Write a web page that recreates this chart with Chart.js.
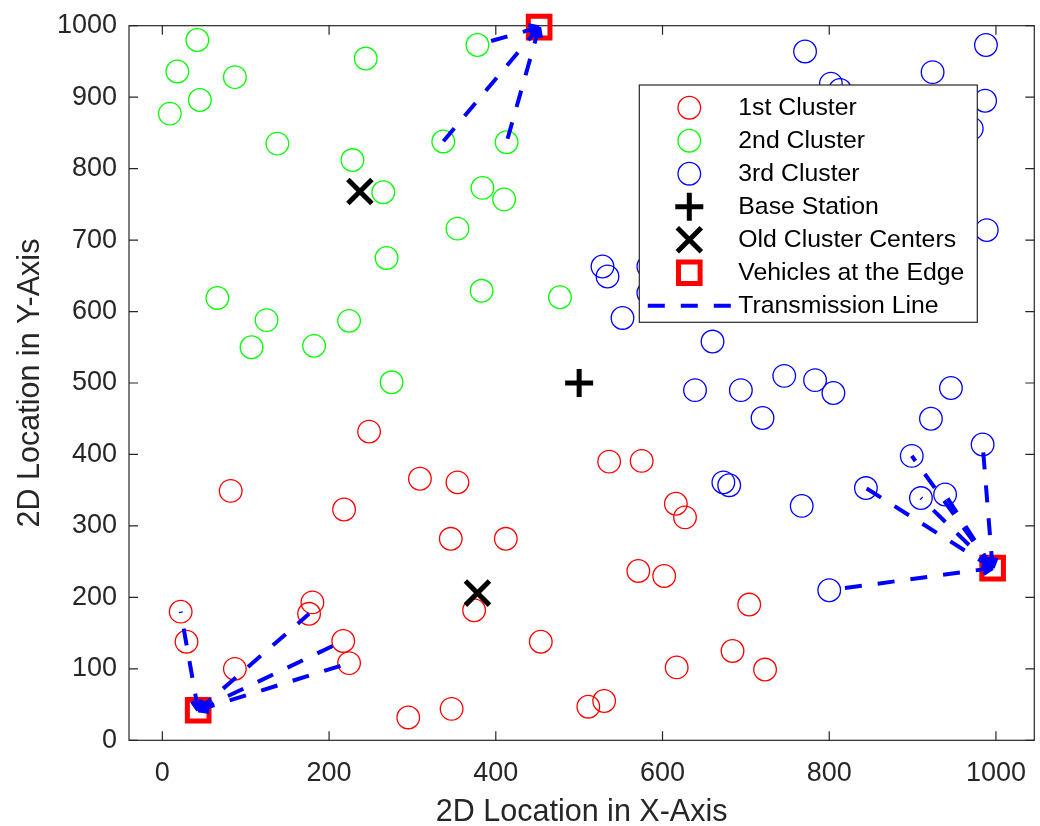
<!DOCTYPE html>
<html>
<head>
<meta charset="utf-8">
<script src="https://cdn.jsdelivr.net/npm/chart.js@4.4.1/dist/chart.umd.min.js"></script>
<style>
  html, body { margin: 0; padding: 0; background: #fff; }
</style>
</head>
<body>
<canvas id="chart" width="1040" height="826"></canvas>
<script>
// node positions (x, y)
const cluster1 = [
  [22, 180], [29, 138], [87, 100], [180, 193], [176, 177], [217, 139], [224, 108],
  [82, 349], [218, 323], [248, 432], [309, 366], [354, 361], [346, 282], [412, 282],
  [536, 390], [575, 391], [616, 331], [627, 312], [571, 237], [602, 230], [374, 182],
  [454, 138], [617, 102], [295, 32], [347, 44], [511, 47], [530, 55], [704, 190],
  [684, 125], [723, 99]
];
const cluster2 = [
  [42, 980], [18, 936], [45, 896], [87, 928], [9, 877], [138, 835], [228, 812], [244, 954],
  [378, 973], [337, 838], [413, 837], [265, 767], [384, 773], [410, 757], [354, 716],
  [269, 675], [383, 629], [477, 620], [224, 587], [275, 501], [66, 619], [125, 588],
  [107, 550], [182, 552]
];
const cluster3 = [
  [771, 964], [988, 973], [924, 935], [802, 919], [813, 910], [987, 895], [971, 856],
  [989, 714], [528, 663], [534, 649], [583, 663], [583, 626], [552, 591], [639, 490],
  [660, 558], [694, 490], [746, 510], [783, 504], [805, 486], [720, 451], [946, 493],
  [922, 450], [984, 414], [899, 398], [673, 361], [680, 357], [767, 328], [844, 353],
  [910, 339], [939, 344], [800, 210]
];
const baseStation = [[500, 500]];
const oldCenters = [[237, 768], [378, 206]];
const vehicles = [[43, 42], [452, 998], [996, 241]];

// nodes that transmit to each vehicle (same order as vehicles)
const linksVehicle1 = [[22, 180], [176, 177], [217, 139], [224, 108]];
const linksVehicle2 = [[337, 838], [413, 837], [378, 973]];
const linksVehicle3 = [[800, 210], [844, 353], [899, 398], [910, 339], [939, 344], [984, 414]];

const xTicks = [0, 200, 400, 600, 800, 1000];
const yTicks = [0, 100, 200, 300, 400, 500, 600, 700, 800, 900, 1000];

const FONT = "'Liberation Sans', Arial, Helvetica, sans-serif";
const AXIS_COLOR = '#262626';

const toPts = arr => arr.map(p => ({ x: p[0], y: p[1] }));

function circleSet(label, pts, color) {
  return {
    label: label,
    data: toPts(pts),
    pointStyle: 'circle',
    pointRadius: 11.3,
    borderWidth: 1.3,
    borderColor: color,
    backgroundColor: 'rgba(0,0,0,0)',
    order: 5
  };
}

const datasets = [
  circleSet('1st Cluster', cluster1, '#ff0000'),
  circleSet('2nd Cluster', cluster2, '#00ff00'),
  circleSet('3rd Cluster', cluster3, '#0000ff'),
  {
    label: 'Base Station', data: toPts(baseStation),
    pointStyle: 'cross', pointRadius: 14, borderWidth: 5,
    borderColor: '#000', backgroundColor: 'rgba(0,0,0,0)', order: 3
  },
  {
    label: 'Old Cluster Centers', data: toPts(oldCenters),
    pointStyle: 'crossRot', pointRadius: 17, borderWidth: 5,
    borderColor: '#000', backgroundColor: 'rgba(0,0,0,0)', order: 3
  },
  {
    label: 'Vehicles at the Edge', data: toPts(vehicles),
    pointStyle: 'rect', pointRadius: 15.3, borderWidth: 5,
    borderColor: '#ff0000', backgroundColor: 'rgba(0,0,0,0)', order: 2
  }
];

// one dashed line per link, drawn from the vehicle to the node
[linksVehicle1, linksVehicle2, linksVehicle3].forEach((links, vi) => {
  links.forEach(src => {
    datasets.push({
      label: datasets.length === 6 ? 'Transmission Line' : '',
      isLink: true,
      data: toPts([vehicles[vi], src]),
      showLine: true,
      pointRadius: 0,
      borderColor: '#0000ff',
      borderWidth: 4,
      borderDash: [17, 16],
      borderCapStyle: 'butt',
      order: 1
    });
  });
});

// box round the plot with inward ticks on all four sides
const framePlugin = {
  id: 'frame',
  beforeDatasetsDraw(chart) {
    const { ctx, chartArea: a, scales } = chart;
    const len = 9;
    ctx.save();
    ctx.strokeStyle = AXIS_COLOR;
    ctx.lineWidth = 1.2;
    ctx.strokeRect(a.left, a.top, a.right - a.left, a.bottom - a.top);
    ctx.beginPath();
    xTicks.forEach(v => {
      const px = scales.x.getPixelForValue(v);
      ctx.moveTo(px, a.bottom); ctx.lineTo(px, a.bottom - len);
      ctx.moveTo(px, a.top); ctx.lineTo(px, a.top + len);
    });
    yTicks.forEach(v => {
      const py = scales.y.getPixelForValue(v);
      ctx.moveTo(a.left, py); ctx.lineTo(a.left + len, py);
      ctx.moveTo(a.right, py); ctx.lineTo(a.right - len, py);
    });
    ctx.stroke();
    ctx.restore();
  }
};

// arrow heads at the vehicle end of each link
const arrowPlugin = {
  id: 'arrows',
  afterDatasetsDraw(chart) {
    const ctx = chart.ctx;
    ctx.save();
    ctx.strokeStyle = '#0000ff';
    ctx.lineWidth = 4;
    chart.data.datasets.forEach((ds, i) => {
      if (!ds.isLink) return;
      const pts = chart.getDatasetMeta(i).data;
      const tip = pts[0], tail = pts[1];
      const ang = Math.atan2(tip.y - tail.y, tip.x - tail.x);
      const head = 11;
      ctx.beginPath();
      [-0.45, 0.45].forEach(d => {
        ctx.moveTo(tip.x, tip.y);
        ctx.lineTo(tip.x - head * Math.cos(ang + d), tip.y - head * Math.sin(ang + d));
      });
      ctx.stroke();
    });
    ctx.restore();
  }
};

// legend box inside the plot, upper right
const legendPlugin = {
  id: 'boxLegend',
  afterDraw(chart) {
    const { ctx, chartArea: a } = chart;
    const items = chart.data.datasets.filter(ds => ds.label);
    const left = a.right - 395, top = a.top + 59.3;
    const w = 338, rowH = 33, h = 237.3;
    ctx.save();
    ctx.fillStyle = '#fff';
    ctx.fillRect(left, top, w, h);
    ctx.strokeStyle = AXIS_COLOR;
    ctx.lineWidth = 1.2;
    ctx.strokeRect(left, top, w, h);
    items.forEach((ds, i) => {
      const cy = top + 22.7 + i * rowH;
      const cx = left + 50;
      ctx.strokeStyle = ds.borderColor;
      ctx.lineWidth = ds.borderWidth;
      ctx.fillStyle = 'rgba(0,0,0,0)';
      if (ds.isLink) {
        ctx.setLineDash(ds.borderDash);
        ctx.beginPath();
        ctx.moveTo(left + 8.5, cy);
        ctx.lineTo(left + 93, cy);
        ctx.stroke();
        ctx.setLineDash([]);
      } else {
        Chart.helpers.drawPoint(ctx, {
          pointStyle: ds.pointStyle, radius: ds.pointRadius,
          borderWidth: ds.borderWidth, rotation: 0
        }, cx, cy);
      }
      ctx.fillStyle = '#000';
      ctx.font = '24.8px ' + FONT;
      ctx.textAlign = 'left';
      ctx.textBaseline = 'middle';
      ctx.fillText(ds.label, left + 99, cy);
    });
    ctx.restore();
  }
};

new Chart(document.getElementById('chart'), {
  type: 'scatter',
  data: { datasets: datasets },
  options: {
    responsive: false,
    devicePixelRatio: 1,
    animation: false,
    clip: false,
    layout: { autoPadding: false, padding: { top: 25.7, right: 5.7, left: 0, bottom: 0 } },
    plugins: { legend: { display: false }, tooltip: { enabled: false } },
    scales: {
      x: {
        type: 'linear', min: -40, max: 1046,
        afterBuildTicks: s => { s.ticks = xTicks.map(v => ({ value: v })); },
        afterFit: s => { s.height = 85.7; },
        grid: { display: false },
        border: { display: false },
        ticks: {
          color: AXIS_COLOR, padding: 9, maxRotation: 0, autoSkip: false,
          font: { family: FONT, size: 27 },
          callback: v => String(v)
        },
        title: {
          display: true, text: '2D Location in X-Axis', color: AXIS_COLOR,
          font: { family: FONT, size: 30.5, lineHeight: 0.85 }, padding: 0
        }
      },
      y: {
        type: 'linear', min: 0, max: 1000,
        afterBuildTicks: s => { s.ticks = yTicks.map(v => ({ value: v })); },
        afterFit: s => { s.width = 129; },
        grid: { display: false },
        border: { display: false },
        ticks: {
          color: AXIS_COLOR, padding: 4, autoSkip: false,
          font: { family: FONT, size: 27 },
          callback: v => String(v)
        },
        title: {
          display: true, text: '2D Location in Y-Axis', color: AXIS_COLOR,
          font: { family: FONT, size: 30.5, lineHeight: 1 }, padding: { top: 15, bottom: 0 }
        }
      }
    }
  },
  plugins: [framePlugin, arrowPlugin, legendPlugin]
});
</script>
</body>
</html>
